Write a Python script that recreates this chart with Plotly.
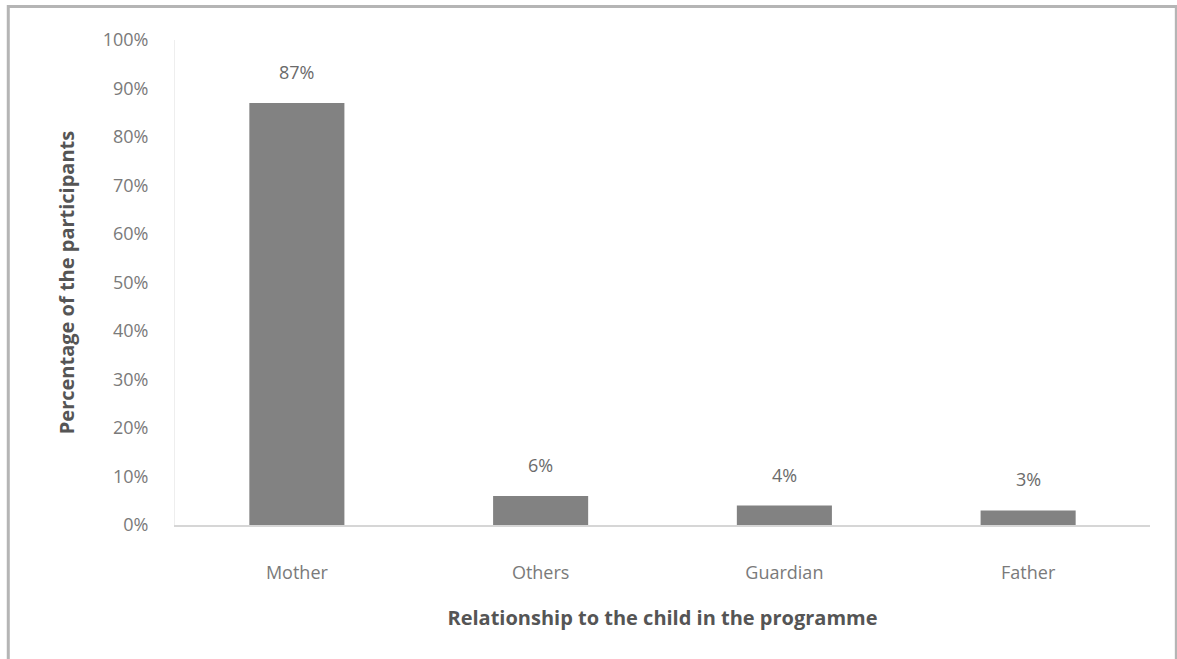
import plotly.graph_objects as go

categories = ["Mother", "Others", "Guardian", "Father"]
values = [87, 6, 4, 3]
y_ticks = [0, 10, 20, 30, 40, 50, 60, 70, 80, 90, 100]
y_tick_labels = [f"{v}%" for v in y_ticks]
value_labels = [f"{v}%" for v in values]

FONT = "Open Sans, Lato, sans-serif"

fig = go.Figure()
fig.add_trace(go.Bar(
    x=categories, y=values,
    marker=dict(color="#828282", line=dict(width=0)),
    width=0.39,
    hoverinfo="skip",
))

for c, v, t in zip(categories, values, value_labels):
    fig.add_annotation(x=c, y=v, text=t, showarrow=False, yanchor="bottom",
                       yshift=17, font=dict(family=FONT, size=18, color="#6b6b6b"))

fig.update_layout(
    width=1177, height=659,
    margin=dict(l=175, r=27, t=40, b=134),
    paper_bgcolor="white", plot_bgcolor="white",
    showlegend=False,
    font=dict(family=FONT, color="#777777"),
    bargap=0.61,
    shapes=[dict(type="rect", xref="paper", yref="paper",
                 x0=-0.171, x1=1.027, y0=-0.31, y1=1.069,
                 line=dict(color="#b5b5b5", width=3), layer="below")],
)
fig.update_xaxes(
    showgrid=False, zeroline=False,
    showline=True, linecolor="#d6d6d6", linewidth=1.5,
    ticks="", tickfont=dict(family=FONT, size=18, color="#7a7a7a"),
    ticklabelstandoff=31,
    title=dict(text="<b>Relationship to the child in the programme</b>",
               font=dict(family=FONT, size=20, color="#555555"), standoff=28),
)
fig.update_yaxes(
    range=[0, 100], tickvals=y_ticks, ticktext=y_tick_labels,
    showgrid=False, zeroline=False,
    showline=True, linecolor="#eeeeee", linewidth=1,
    ticks="", tickfont=dict(family=FONT, size=18, color="#7a7a7a"),
    ticklabelstandoff=22,
    title=dict(text="<b>Percentage of the participants</b>",
               font=dict(family=FONT, size=20, color="#555555"), standoff=22),
)

fig.write_html("out.html")
